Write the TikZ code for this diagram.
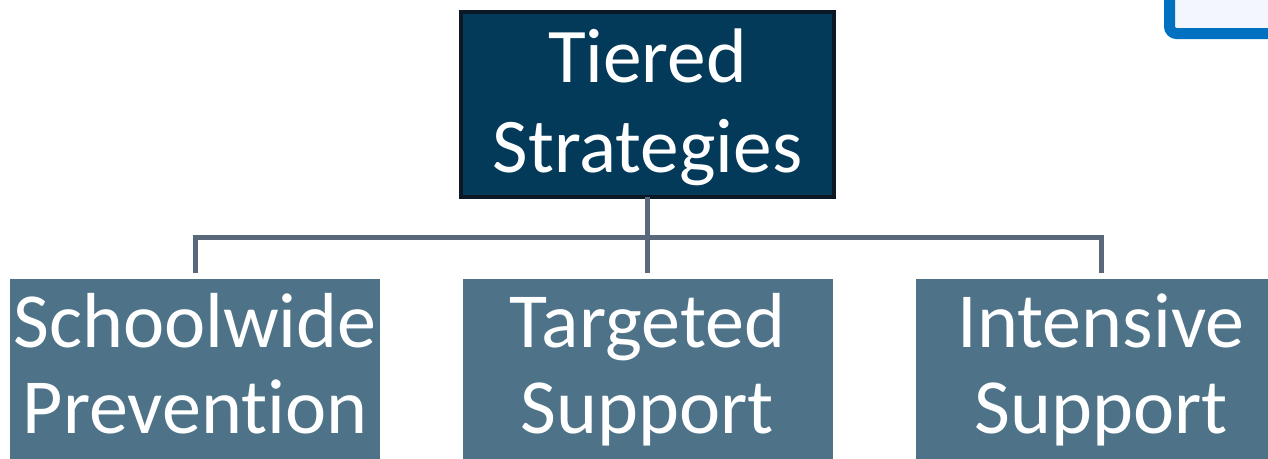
\documentclass[tikz,border=0pt]{standalone}
\usepackage{fontspec}
\setmainfont{Carlito}[Ligatures=NoCommon]
\usetikzlibrary{positioning}

\definecolor{topnavy}{HTML}{033959}
\definecolor{topedge}{HTML}{0C1826}
\definecolor{tierfill}{HTML}{4E7389}
\definecolor{linkgrey}{HTML}{5A687C}
\definecolor{frameblue}{HTML}{0070C0}
\definecolor{framefill}{HTML}{F4F6FD}

\begin{document}
\begin{tikzpicture}[
        headbox/.style={draw=topedge, line width=0.04cm, fill=topnavy, text=white,
            minimum width=3.73cm, minimum height=1.85cm, inner sep=0pt, outer sep=0pt,
            text height=1.5cm, text depth=0.15cm,
            align=center, font=\fontsize{22}{25.4}\selectfont},
        tierbox/.style={fill=tierfill, text=white,
            minimum width=3.70cm, minimum height=1.95cm, inner sep=0pt, outer sep=0pt,
            text height=1.16cm, text depth=0.03cm,
            align=center, font=\fontsize{22.2}{24.2}\selectfont},
        link/.style={draw=linkgrey, line width=0.05cm}
    ]

        \useasboundingbox (0,0) rectangle (12.68,4.58);
        \clip (0,0) rectangle (12.68,4.58);

        \fill[white] (0,0) rectangle (12.68,4.58);
        \draw[frameblue, line width=0.11cm, fill=framefill, rounded corners=2pt] (11.695,4.245) rectangle (13.2,5.2);

        \node[headbox] (tiered) at (6.475,3.535) {Tiered\\Strategies};

        \node[tierbox, anchor=north] (schoolwide) at (1.95,1.79) {Schoolwide\\Prevention};
        \node[tierbox, anchor=north] (targeted) at (6.475,1.79) {Targeted\\Support};
        \node[tierbox, anchor=north] (intensive) at (11.01,1.79) {Intensive\\Support};

        \coordinate (bus) at (6.475,2.21);

        \draw[link] (tiered.south) -- (bus);
        \draw[link] ([yshift=0.06cm]schoolwide.north) |- (bus);
        \draw[link] ([yshift=0.06cm]intensive.north) |- (bus);
        \draw[link] ([yshift=0.06cm]targeted.north) -- (bus);

\end{tikzpicture}
\end{document}
